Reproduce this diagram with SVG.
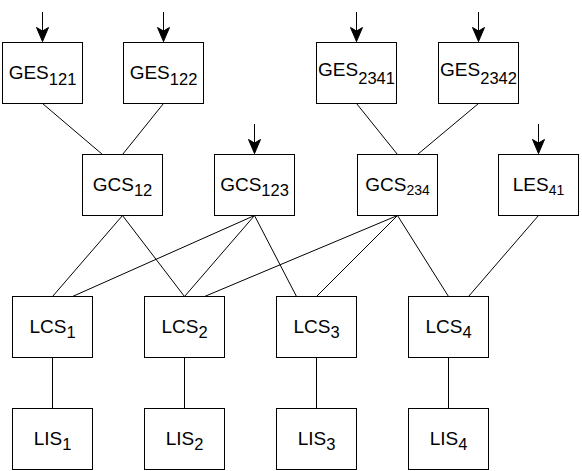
<svg xmlns="http://www.w3.org/2000/svg" width="582" height="471" viewBox="0 0 582 471">
  <defs>
    <marker id="arr" markerUnits="userSpaceOnUse" markerWidth="16" markerHeight="14" viewBox="-15 -7 16 14" refX="0" refY="0" orient="auto">
      <path d="M0,0 L-14,-6 L-10.5,0 L-14,6 Z" fill="#000" stroke="#000" stroke-width="1"/>
    </marker>
    <style>
      .box { fill: #fff; stroke: #000; stroke-width: 1; }
      .t { font-family: "Liberation Sans", Arial, sans-serif; font-size: 19px; fill: #000; text-anchor: middle; }
      .s { font-size: 16.5px; }
      .ss { font-size: 14px; }
      .c { stroke: #000; stroke-width: 1; fill: none; }
    </style>
  </defs>
  <rect width="582" height="471" fill="#fff"/>

  <g id="connectors">
    <line class="c" x1="42.5" y1="12" x2="42.5" y2="41.5" marker-end="url(#arr)"/>
    <line class="c" x1="163.5" y1="12" x2="163.5" y2="41.5" marker-end="url(#arr)"/>
    <line class="c" x1="356.5" y1="12" x2="356.5" y2="41.5" marker-end="url(#arr)"/>
    <line class="c" x1="478.5" y1="12" x2="478.5" y2="41.5" marker-end="url(#arr)"/>
    <line class="c" x1="254.5" y1="124" x2="254.5" y2="153.5" marker-end="url(#arr)"/>
    <line class="c" x1="538.5" y1="124" x2="538.5" y2="153.5" marker-end="url(#arr)"/>

    <line class="c" x1="42.5" y1="103.5" x2="102.5" y2="154.5"/>
    <line class="c" x1="163.5" y1="103.5" x2="122.5" y2="154.5"/>
    <line class="c" x1="356.5" y1="103.5" x2="397.5" y2="154.5"/>
    <line class="c" x1="478.5" y1="103.5" x2="417.5" y2="154.5"/>

    <line class="c" x1="122.5" y1="215.5" x2="52.5" y2="296.5"/>
    <line class="c" x1="122.5" y1="215.5" x2="184.5" y2="296.5"/>
    <line class="c" x1="254.5" y1="215.5" x2="72.5" y2="296.5"/>
    <line class="c" x1="254.5" y1="215.5" x2="184.5" y2="296.5"/>
    <line class="c" x1="254.5" y1="215.5" x2="296.5" y2="296.5"/>
    <line class="c" x1="397.5" y1="215.5" x2="204.5" y2="296.5"/>
    <line class="c" x1="397.5" y1="215.5" x2="316.5" y2="296.5"/>
    <line class="c" x1="397.5" y1="215.5" x2="448.5" y2="296.5"/>
    <line class="c" x1="538.5" y1="215.5" x2="468.5" y2="296.5"/>

    <line class="c" x1="52.5" y1="357.5" x2="52.5" y2="408.5"/>
    <line class="c" x1="184.5" y1="357.5" x2="184.5" y2="408.5"/>
    <line class="c" x1="316.5" y1="357.5" x2="316.5" y2="408.5"/>
    <line class="c" x1="448.5" y1="357.5" x2="448.5" y2="408.5"/>
  </g>

  <g id="GES121"><rect class="box" x="2.5" y="42.5" width="80" height="61"/>
    <text class="t" x="42.5" y="78.5">GES<tspan class="s" dy="6">121</tspan></text></g>
  <g id="GES122"><rect class="box" x="123.5" y="42.5" width="80" height="61"/>
    <text class="t" x="163.5" y="78.5">GES<tspan class="s" dy="6">122</tspan></text></g>
  <g id="GES2341"><rect class="box" x="316.5" y="42.5" width="80" height="61"/>
    <text class="t" x="356.5" y="76">GES<tspan class="s" dy="8">2341</tspan></text></g>
  <g id="GES2342"><rect class="box" x="438.5" y="42.5" width="80" height="61"/>
    <text class="t" x="478.5" y="76">GES<tspan class="s" dy="8">2342</tspan></text></g>

  <g id="GCS12"><rect class="box" x="82.5" y="154.5" width="80" height="61"/>
    <text class="t" x="122.5" y="190.5">GCS<tspan class="s" dy="5">12</tspan></text></g>
  <g id="GCS123"><rect class="box" x="214.5" y="154.5" width="80" height="61"/>
    <text class="t" x="254.5" y="190.5">GCS<tspan class="s" dy="5">123</tspan></text></g>
  <g id="GCS234"><rect class="box" x="357.5" y="154.5" width="80" height="61"/>
    <text class="t" x="397.5" y="190.5">GCS<tspan class="ss" dy="4">234</tspan></text></g>
  <g id="LES41"><rect class="box" x="498.5" y="154.5" width="80" height="61"/>
    <text class="t" x="538.5" y="190.5">LES<tspan class="ss" dy="4">41</tspan></text></g>

  <g id="LCS1"><rect class="box" x="12.5" y="296.5" width="80" height="61"/>
    <text class="t" x="52.5" y="333">LCS<tspan class="s" dy="5">1</tspan></text></g>
  <g id="LCS2"><rect class="box" x="144.5" y="296.5" width="80" height="61"/>
    <text class="t" x="184.5" y="333">LCS<tspan class="s" dy="5">2</tspan></text></g>
  <g id="LCS3"><rect class="box" x="276.5" y="296.5" width="80" height="61"/>
    <text class="t" x="316.5" y="333">LCS<tspan class="s" dy="5">3</tspan></text></g>
  <g id="LCS4"><rect class="box" x="408.5" y="296.5" width="80" height="61"/>
    <text class="t" x="448.5" y="333">LCS<tspan class="s" dy="5">4</tspan></text></g>

  <g id="LIS1"><rect class="box" x="12.5" y="408.5" width="80" height="61"/>
    <text class="t" x="52.5" y="445">LIS<tspan class="s" dy="5">1</tspan></text></g>
  <g id="LIS2"><rect class="box" x="144.5" y="408.5" width="80" height="61"/>
    <text class="t" x="184.5" y="445">LIS<tspan class="s" dy="5">2</tspan></text></g>
  <g id="LIS3"><rect class="box" x="276.5" y="408.5" width="80" height="61"/>
    <text class="t" x="316.5" y="445">LIS<tspan class="s" dy="5">3</tspan></text></g>
  <g id="LIS4"><rect class="box" x="408.5" y="408.5" width="80" height="61"/>
    <text class="t" x="448.5" y="445">LIS<tspan class="s" dy="5">4</tspan></text></g>
</svg>
